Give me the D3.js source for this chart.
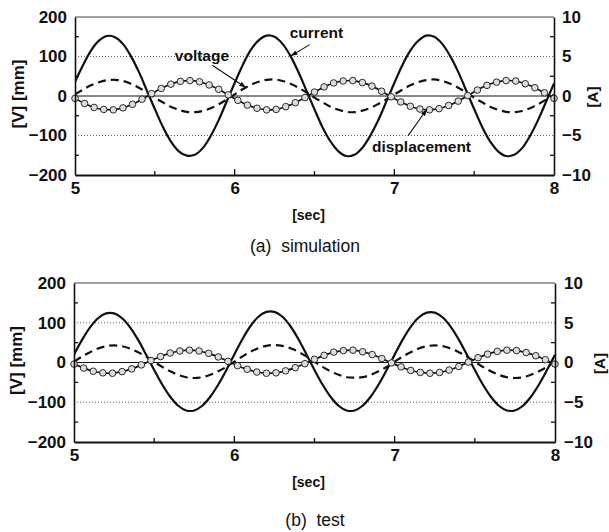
<!DOCTYPE html>
<html>
<head>
<meta charset="utf-8">
<script src="https://cdn.jsdelivr.net/npm/d3@7"></script>
<style>
  html, body { margin: 0; padding: 0; background: #fff; }
  svg { display: block; }
  text { font-family: "Liberation Sans", Arial, Helvetica, sans-serif; fill: #111; }
</style>
</head>
<body>
<svg id="chart" width="609" height="532"></svg>
<script>
// Sampling grids in seconds: line samples every 0.05 s, measured points every 0.06 s
const lineTimes = d3.range(61).map(i => +(5 + i * 0.05).toFixed(2));
const markerTimes = d3.range(51).map(i => +(5 + i * 0.06).toFixed(2));

// (a) simulation
const simCurrent = [ // A
  1.8, 3.9, 5.75, 7.0, 7.6, 7.45, 6.6, 5.05, 3.05, 0.7,
  -1.65, -3.9, -5.75, -7.0, -7.55, -7.45, -6.6, -5.05, -3.05, -0.7,
  1.65, 3.9, 5.8, 7.05, 7.65, 7.5, 6.6, 5.05, 3.0, 0.65,
  -1.7, -3.95, -5.75, -7.0, -7.6, -7.45, -6.55, -5.0, -3.05, -0.7,
  1.65, 3.9, 5.75, 7.0, 7.65, 7.5, 6.6, 5.05, 3.05, 0.7,
  -1.65, -3.9, -5.75, -7.0, -7.6, -7.45, -6.6, -5.05, -3.05, -0.75,
  1.6
];
const simVoltage = [ // V
  4, 16, 27, 35, 40, 41, 38, 31, 21, 9,
  -4, -16, -27, -35, -40, -41, -38, -31, -21, -9,
  4, 17, 28, 36, 41, 42, 38, 31, 21, 9,
  -4, -16, -27, -35, -40, -41, -37, -30, -20, -9,
  4, 16, 27, 35, 40, 42, 38, 31, 21, 9,
  -4, -16, -27, -35, -40, -41, -38, -31, -21, -9,
  3
];
const simDisplacement = [ // mm
  -6, -19, -29, -34, -35, -30, -21, -8, 6, 19,
  30, 37, 39, 36, 28, 17, 3, -11, -23, -31,
  -35, -34, -27, -17, -4, 10, 23, 33, 38, 39,
  34, 25, 12, -2, -15, -26, -33, -35, -32, -24,
  -13, 1, 15, 27, 35, 39, 38, 31, 21, 8,
  -6
];

// (b) test
const testCurrent = [ // A
  0.98, 2.84, 4.42, 5.57, 6.18, 6.18, 5.57, 4.42, 2.84, 0.98,
  -0.95, -2.77, -4.31, -5.44, -6.03, -6.03, -5.44, -4.31, -2.77, -0.95,
  1.01, 2.93, 4.56, 5.75, 6.37, 6.37, 5.75, 4.56, 2.93, 1.01,
  -0.95, -2.77, -4.31, -5.44, -6.03, -6.03, -5.44, -4.31, -2.77, -0.95,
  0.99, 2.88, 4.49, 5.66, 6.27, 6.27, 5.66, 4.49, 2.88, 0.99,
  -0.95, -2.77, -4.31, -5.44, -6.03, -6.03, -5.44, -4.31, -2.77, -0.95,
  0.97
];
const testVoltage = [ // V
  2, 15, 26, 35, 41, 43, 41, 35, 26, 15,
  2, -11, -22, -31, -37, -39, -37, -31, -22, -11,
  2, 15, 27, 36, 42, 44, 42, 36, 27, 15,
  2, -11, -22, -31, -37, -38, -37, -31, -22, -11,
  2, 15, 26, 35, 41, 43, 41, 35, 26, 15,
  2, -11, -22, -31, -37, -39, -37, -31, -22, -11,
  2
];
const testDisplacement = [ // mm
  -4, -14, -22, -26, -27, -23, -16, -6, 5, 15,
  24, 29, 31, 29, 23, 14, 3, -8, -17, -24,
  -27, -26, -21, -13, -3, 8, 18, 26, 30, 31,
  27, 20, 10, -1, -11, -20, -25, -27, -25, -19,
  -10, 1, 12, 21, 28, 31, 30, 25, 17, 7,
  -4
];

// Axis ticks and labels
const xTicks = [5, 6, 7, 8];
const xMinorTicks = [5.5, 6.5, 7.5];
const leftTicks = [-200, -100, 0, 100, 200];
const leftMinorTicks = [-150, -50, 50, 150];
const rightTicks = [-10, -5, 0, 5, 10];
const captions = ["(a)  simulation", "(b)  test"];
const seriesNames = ["current", "voltage", "displacement"];

// Layout of the two stacked panels
const panels = [
  {
    caption: captions[0], current: simCurrent, voltage: simVoltage, disp: simDisplacement,
    box: { l: 75, r: 554, t: 17, b: 175 },
    capX: 305, capY: 252, ampX: 598, voltX: 24,
    notes: [
      { text: seriesNames[0], at: [6.345, 148], anchor: "start", from: [6.47, 130], to: [6.35, 101] },
      { text: seriesNames[1], at: [5.795, 89], anchor: "middle", from: [5.86, 78], to: [6.072, 21] },
      { text: seriesNames[2], at: [6.86, -142], anchor: "start", from: [7.085, -101], to: [7.205, -33] }
    ]
  },
  {
    caption: captions[1], current: testCurrent, voltage: testVoltage, disp: testDisplacement,
    box: { l: 74, r: 555, t: 283, b: 442 },
    capX: 315, capY: 526, ampX: 605, voltX: 22,
    notes: []
  }
];

const svg = d3.select("#chart");

svg.append("defs").append("marker")
  .attr("id", "arrowhead")
  .attr("viewBox", "0 0 10 10")
  .attr("refX", 10).attr("refY", 5)
  .attr("markerWidth", 7).attr("markerHeight", 7)
  .attr("markerUnits", "userSpaceOnUse")
  .attr("orient", "auto")
  .append("path")
  .attr("d", "M0,1.5 L10,5 L0,8.5 Z")
  .attr("fill", "#111");

panels.forEach((p, idx) => {
  const { l, r, t, b } = p.box;
  const x = d3.scaleLinear().domain([5, 8]).range([l, r]);
  const yL = d3.scaleLinear().domain([-200, 200]).range([b, t]);
  const yR = d3.scaleLinear().domain([-10, 10]).range([b, t]);
  const g = svg.append("g");

  const clipId = "clip" + idx;
  svg.select("defs").append("clipPath").attr("id", clipId)
    .append("rect").attr("x", l).attr("y", t).attr("width", r - l).attr("height", b - t);

  // dotted grid at +-100 and solid zero line
  g.selectAll(".grid").data([-100, 100]).join("line")
    .attr("x1", l).attr("x2", r)
    .attr("y1", d => yL(d)).attr("y2", d => yL(d))
    .attr("stroke", "#666").attr("stroke-width", 1)
    .attr("stroke-dasharray", "1,2");
  g.append("line")
    .attr("x1", l).attr("x2", r).attr("y1", yL(0)).attr("y2", yL(0))
    .attr("stroke", "#111").attr("stroke-width", 1.2);

  const plot = g.append("g").attr("clip-path", `url(#${clipId})`);

  const currentPts = lineTimes.map((tt, i) => ({ t: tt, v: p.current[i] }));
  const voltagePts = lineTimes.map((tt, i) => ({ t: tt, v: p.voltage[i] }));
  const dispPts = markerTimes.map((tt, i) => ({ t: tt, v: p.disp[i] }));

  const lineR = d3.line().x(d => x(d.t)).y(d => yR(d.v)).curve(d3.curveCatmullRom);
  const lineL = d3.line().x(d => x(d.t)).y(d => yL(d.v)).curve(d3.curveCatmullRom);

  plot.append("path").datum(currentPts).attr("d", lineR)
    .attr("fill", "none").attr("stroke", "#111").attr("stroke-width", 2.2);
  plot.append("path").datum(voltagePts).attr("d", lineL)
    .attr("fill", "none").attr("stroke", "#111").attr("stroke-width", 2.2)
    .attr("stroke-dasharray", "8,5");
  plot.append("path").datum(dispPts).attr("d", lineL)
    .attr("fill", "none").attr("stroke", "#111").attr("stroke-width", 1.7);

  g.selectAll(".pt").data(dispPts).join("circle")
    .attr("cx", d => x(d.t)).attr("cy", d => yL(d.v)).attr("r", 3.3)
    .attr("fill", "#dcdcdc").attr("stroke", "#2a2a2a").attr("stroke-width", 1);

  // frame: faint top edge, heavier left/right/bottom
  g.append("line").attr("x1", l).attr("x2", r).attr("y1", t).attr("y2", t)
    .attr("stroke", "#444").attr("stroke-width", 1);

  // inward tick marks
  const ticks = g.append("g").attr("stroke", "#111").attr("stroke-width", 1.3);
  leftMinorTicks.forEach(v => {
    ticks.append("line").attr("x1", l).attr("x2", l + 4).attr("y1", yL(v)).attr("y2", yL(v));
    ticks.append("line").attr("x1", r).attr("x2", r - 4).attr("y1", yL(v)).attr("y2", yL(v));
  });
  xMinorTicks.forEach(v => {
    ticks.append("line").attr("x1", x(v)).attr("x2", x(v)).attr("y1", b).attr("y2", b - 4);
  });
  xTicks.slice(1, -1).forEach(v => {
    ticks.append("line").attr("x1", x(v)).attr("x2", x(v)).attr("y1", b).attr("y2", b - 6);
  });

  // axes with labels
  const axL = g.append("g").attr("transform", `translate(${l},0)`)
    .call(d3.axisLeft(yL).tickValues(leftTicks).tickSize(0).tickPadding(8).tickFormat(d3.format("d")));
  const axR = g.append("g").attr("transform", `translate(${r},0)`)
    .call(d3.axisRight(yR).tickValues(rightTicks).tickSize(0).tickPadding(idx === 0 ? 8 : 9).tickFormat(d3.format("d")));
  const axB = g.append("g").attr("transform", `translate(0,${b})`)
    .call(d3.axisBottom(x).tickValues(xTicks).tickSize(0).tickPadding(7).tickFormat(d3.format("d")));

  [axL, axR, axB].forEach(ax => {
    ax.select(".domain").attr("stroke", "#111").attr("stroke-width", 1.6);
    ax.selectAll("text")
      .attr("font-family", "'Liberation Sans', Arial, sans-serif")
      .attr("font-size", 17).attr("font-weight", "bold").attr("fill", "#111");
  });
  axB.select(".domain").attr("stroke-width", 2);
  axB.selectAll("text").attr("dy", "0.71em");

  // axis titles
  g.append("text")
    .attr("x", (l + r) / 2 - 6).attr("y", b + 45)
    .attr("text-anchor", "middle")
    .attr("font-size", 14).attr("font-weight", "bold")
    .text("[sec]");
  g.append("text")
    .attr("transform", `translate(${p.voltX},${(t + b) / 2 - 2}) rotate(-90)`)
    .attr("text-anchor", "middle")
    .attr("font-size", 17).attr("font-weight", "bold")
    .text("[V] [mm]");
  g.append("text")
    .attr("transform", `translate(${p.ampX},${(t + b) / 2 + 1}) rotate(-90)`)
    .attr("text-anchor", "middle")
    .attr("font-size", 15).attr("font-weight", "bold")
    .text("[A]");

  // caption
  g.append("text")
    .attr("x", p.capX).attr("y", p.capY)
    .attr("text-anchor", "middle")
    .attr("font-size", 17.5)
    .attr("fill", "#222")
    .style("white-space", "pre")
    .text(p.caption);

  // series annotations with arrows
  p.notes.forEach(n => {
    g.append("text")
      .attr("x", x(n.at[0])).attr("y", yL(n.at[1]))
      .attr("text-anchor", n.anchor)
      .attr("font-size", 15.5).attr("font-weight", "bold")
      .text(n.text);
    g.append("line")
      .attr("x1", x(n.from[0])).attr("y1", yL(n.from[1]))
      .attr("x2", x(n.to[0])).attr("y2", yL(n.to[1]))
      .attr("stroke", "#111").attr("stroke-width", 1.1)
      .attr("marker-end", "url(#arrowhead)");
  });
});
</script>
</body>
</html>
